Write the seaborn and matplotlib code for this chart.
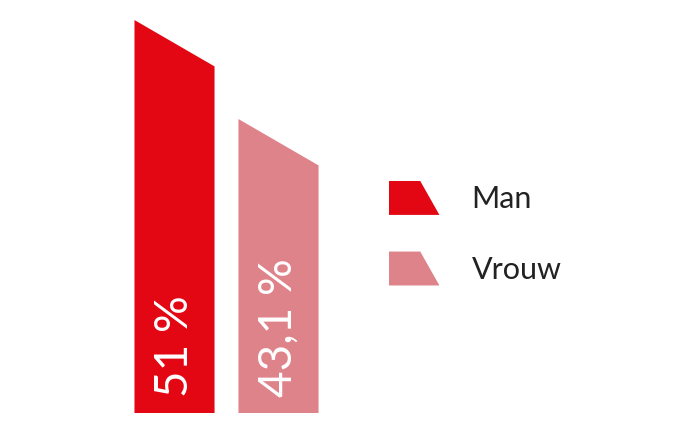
import matplotlib
matplotlib.use("Agg")
import matplotlib.pyplot as plt
import seaborn as sns
from matplotlib.patches import Polygon
from matplotlib.legend_handler import HandlerPatch

# Data
categories = ["Man", "Vrouw"]
values = [51.0, 43.1]
colors = ["#E30613", "#DF838A"]
labels = [f"{v:g}".replace(".", ",") + " %" for v in values]

sns.set_theme(style="white")
plt.rcParams["font.family"] = ["Lato", "DejaVu Sans"]

fig = plt.figure(figsize=(7, 4.33), dpi=100)
ax = fig.add_axes([0, 20 / 433, 1, 413 / 433])

sns.barplot(x=categories, y=values, hue=categories, palette=colors,
            width=0.77, saturation=1, legend=False, ax=ax)

base = 19.64
ax.set_ylim(base, 52.6)
ax.set_xlim(-1.678, 5.053)
ax.axis("off")

drop = 3.7  # slant of the bar tops
for p, col, lab in zip(ax.patches[:len(values)], colors, labels):
    x0, w, h = p.get_x(), p.get_width(), p.get_height()
    poly = Polygon([(x0, 0), (x0, h), (x0 + w, h - drop), (x0 + w, 0)],
                   closed=True, facecolor=col, edgecolor="none")
    ax.add_patch(poly)
    p.set_visible(False)
    ax.text(x0 + w / 2, base + 1.25, lab, rotation=90, ha="center", va="bottom",
            color="white", fontsize=33, fontweight="normal")


class SlantHandler(HandlerPatch):
    def create_artists(self, legend, orig_handle, xdescent, ydescent,
                       width, height, fontsize, trans):
        x0, y0 = -xdescent, -ydescent
        pts = [(x0, y0), (x0 + width, y0), (x0 + width * 0.62, y0 + height),
               (x0, y0 + height)]
        return [Polygon(pts, closed=True, facecolor=orig_handle.get_facecolor(),
                        edgecolor="none", transform=trans)]


handles = [Polygon([(0, 0), (1, 0), (1, 1)], facecolor=c) for c in colors]
leg = ax.legend(handles, categories, handler_map={Polygon: SlantHandler()},
                loc="upper left", bbox_to_anchor=(389 / 700, 1 - 181 / 433),
                bbox_transform=fig.transFigure, frameon=False, fontsize=22,
                handlelength=1.65, handleheight=1.33, handletextpad=1.05,
                labelspacing=1.2, borderpad=0, borderaxespad=0)
for t in leg.get_texts():
    t.set_color("#222222")

fig.savefig("out.png", dpi=100)
